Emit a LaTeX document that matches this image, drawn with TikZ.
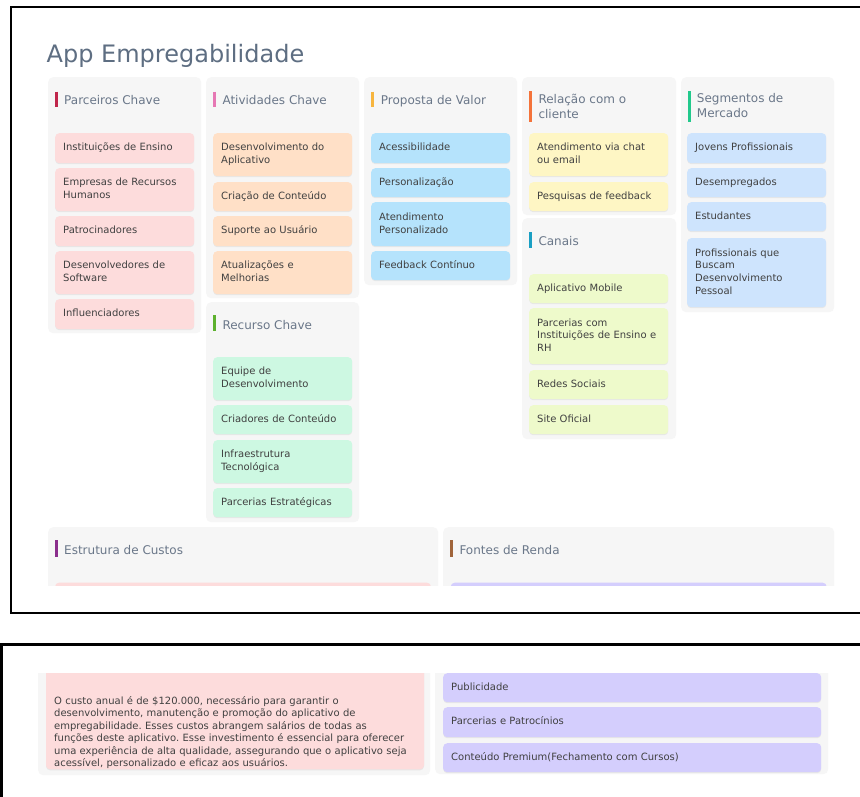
\documentclass[tikz,border=0pt]{standalone}
\usepackage{fontspec}
\setmainfont{DejaVu Sans}
\usepackage{tikz}
\usetikzlibrary{shadows}
\frenchspacing
\definecolor{panelgray}{HTML}{F6F6F6}
\definecolor{titletext}{HTML}{5E6E82}
\definecolor{headtext}{HTML}{6A7789}
\definecolor{cardtext}{HTML}{404040}
\definecolor{pinkcard}{HTML}{FDDCDC}
\definecolor{peachcard}{HTML}{FFE0C7}
\definecolor{skycard}{HTML}{B5E3FC}
\definecolor{yellowcard}{HTML}{FEF6C4}
\definecolor{limecard}{HTML}{EEFACB}
\definecolor{bluecard}{HTML}{CEE4FD}
\definecolor{mintcard}{HTML}{CDF8E2}
\definecolor{lilaccard}{HTML}{D4CEFD}
\definecolor{barparc}{HTML}{C0264B}
\definecolor{barativ}{HTML}{E678B4}
\definecolor{barprop}{HTML}{F7B53E}
\definecolor{barrel}{HTML}{F4733A}
\definecolor{barseg}{HTML}{22C98C}
\definecolor{barcan}{HTML}{1A9FC3}
\definecolor{barrec}{HTML}{5DB12E}
\definecolor{barcus}{HTML}{8B2E8C}
\definecolor{barren}{HTML}{A0643A}

\begin{document}
\begin{tikzpicture}
            [x=1pt,y=-1pt,
             frame/.style={line width=2.6pt},
             panel/.style={anchor=north west,fill=panelgray,rounded corners=5pt,inner sep=0pt},
             bar/.style={line width=3pt},
             head/.style={anchor=north west,inner sep=0pt,text=headtext,align=left,
                          font=\fontsize{12}{15}\selectfont,execute at begin node=\strut},
             cardshadow/.style={drop shadow={opacity=0.12,shadow xshift=0pt,shadow yshift=-1pt}},
             card/.style={anchor=north west,rounded corners=4pt,cardshadow,text=cardtext,
                          font=\fontsize{10}{12.7}\selectfont,text width=123pt,align=left,
                          inner xsep=8pt,inner ysep=0pt,
                          execute at begin node=\strut,execute at end node=\strut}]
            \clip (0,0) rectangle (860,796);
            \fill[white] (0,0) rectangle (860,796);
            %
            \draw[frame] (880,7) -- (11,7) -- (11,612.8) -- (880,612.8);
            \node[anchor=base west,inner sep=0pt,text=titletext,font=\fontsize{24}{28}\selectfont]
                (title) at (46.5,62) {App Empregabilidade};
            %
            \node[panel,minimum width=153pt,minimum height=256pt] (parc) at (48,77) {};
            \node[panel,minimum width=153pt,minimum height=221pt] (ativ) at (206,77) {};
            \node[panel,minimum width=153pt,minimum height=220pt] (recu) at (206,302) {};
            \node[panel,minimum width=153pt,minimum height=208pt] (prop) at (364,77) {};
            \node[panel,minimum width=154pt,minimum height=138pt] (rela) at (522,77) {};
            \node[panel,minimum width=154pt,minimum height=221pt] (cana) at (522,218) {};
            \node[panel,minimum width=153pt,minimum height=235pt] (segm) at (681,77) {};
            %
            \draw[bar,barparc] (56.7,91.7) -- (56.7,107.3);
            \draw[bar,barativ] (214.5,91.7) -- (214.5,107.3);
            \draw[bar,barprop] (372.7,91.7) -- (372.7,107.3);
            \draw[bar,barrel] (530.7,91) -- (530.7,122.3);
            \draw[bar,barseg] (689,91) -- (689,122.3);
            \draw[bar,barcan] (530.7,232.3) -- (530.7,248.3);
            \draw[bar,barrec] (214.5,315) -- (214.5,331);
            %
            \node[head] (parch) at (64,93.5) {Parceiros Chave};
            \node[head] (ativh) at (222.3,93.5) {Atividades Chave};
            \node[head] (proph) at (380.7,93.5) {Proposta de Valor};
            \node[head] (relah) at (538.3,93.5) {Relação com o\\cliente};
            \node[head] (segmh) at (696.7,93.5) {Segmentos de\\Mercado};
            \node[head] (canah) at (538.3,235) {Canais};
            \node[head] (recuh) at (222.3,318.5) {Recurso Chave};
            %
            \node[card,fill=pinkcard,minimum height=30pt] (parc1) at (55,133) {Instituições de Ensino};
            \node[card,fill=pinkcard,minimum height=43pt] (parc2) at (55,168) {Empresas de Recursos\\Humanos};
            \node[card,fill=pinkcard,minimum height=30pt] (parc3) at (55,216) {Patrocinadores};
            \node[card,fill=pinkcard,minimum height=43pt] (parc4) at (55,251) {Desenvolvedores de\\Software};
            \node[card,fill=pinkcard,minimum height=30pt] (parc5) at (55,299) {Influenciadores};
            %
            \node[card,fill=peachcard,minimum height=43pt] (ativ1) at (213,133) {Desenvolvimento do\\Aplicativo};
            \node[card,fill=peachcard,minimum height=29pt] (ativ2) at (213,182) {Criação de Conteúdo};
            \node[card,fill=peachcard,minimum height=30pt] (ativ3) at (213,216) {Suporte ao Usuário};
            \node[card,fill=peachcard,minimum height=43pt] (ativ4) at (213,251) {Atualizações e\\Melhorias};
            %
            \node[card,fill=mintcard,minimum height=43pt] (recu1) at (213,357) {Equipe de\\Desenvolvimento};
            \node[card,fill=mintcard,minimum height=29pt] (recu2) at (213,405) {Criadores de Conteúdo};
            \node[card,fill=mintcard,minimum height=43pt] (recu3) at (213,440) {Infraestrutura\\Tecnológica};
            \node[card,fill=mintcard,minimum height=29pt] (recu4) at (213,488) {Parcerias Estratégicas};
            %
            \node[card,fill=skycard,minimum height=30pt] (prop1) at (371,133) {Acessibilidade};
            \node[card,fill=skycard,minimum height=29pt] (prop2) at (371,168) {Personalização};
            \node[card,fill=skycard,minimum height=44pt] (prop3) at (371,202) {Atendimento\\Personalizado};
            \node[card,fill=skycard,minimum height=29pt] (prop4) at (371,251) {Feedback Contínuo};
            %
            \node[card,fill=yellowcard,minimum height=43pt] (rela1) at (529,133) {Atendimento via chat\\ou email};
            \node[card,fill=yellowcard,minimum height=29pt] (rela2) at (529,182) {Pesquisas de feedback};
            %
            \node[card,fill=limecard,minimum height=29pt] (cana1) at (529,274) {Aplicativo Mobile};
            \node[card,fill=limecard,minimum height=56pt] (cana2) at (529,308) {Parcerias com\\Instituições de Ensino e\\RH};
            \node[card,fill=limecard,minimum height=29pt] (cana3) at (529,370) {Redes Sociais};
            \node[card,fill=limecard,minimum height=29pt] (cana4) at (529,405) {Site Oficial};
            %
            \node[card,fill=bluecard,minimum height=30pt] (segm1) at (687,133) {Jovens Profissionais};
            \node[card,fill=bluecard,minimum height=29pt] (segm2) at (687,168) {Desempregados};
            \node[card,fill=bluecard,minimum height=29pt] (segm3) at (687,202) {Estudantes};
            \node[card,fill=bluecard,minimum height=69pt] (segm4) at (687,238) {Profissionais que\\Buscam\\Desenvolvimento\\Pessoal};
            %
            \begin{scope}
                \clip (13,8) rectangle (860,585);
                \node[panel,minimum width=390pt,minimum height=80pt] (cust) at (48,527) {};
                \node[panel,minimum width=391pt,minimum height=80pt] (rend) at (443,527) {};
                \draw[bar,barcus] (56.7,540) -- (56.7,556.7);
                \draw[bar,barren] (451,540) -- (451,556.7);
                \node[head] (custh) at (64,543.5) {Estrutura de Custos};
                \node[head] (rendh) at (459.3,543.5) {Fontes de Renda};
                \fill[pinkcard,rounded corners=4pt] (55,582.7) rectangle (431,600);
                \fill[lilaccard,rounded corners=4pt] (450.7,582.7) rectangle (826.7,600);
            \end{scope}
            %
            \draw[frame] (880,644.3) -- (1.5,644.3) -- (1.5,810);
            \begin{scope}
                \clip (3,673) rectangle (860,796);
                \node[panel,minimum width=392pt,minimum height=115pt] (cust2) at (38,660) {};
                \node[panel,minimum width=393pt,minimum height=114pt] (rend2) at (435,660) {};
                \fill[pinkcard,rounded corners=4pt,cardshadow] (46,655) rectangle (424,769.3);
                \node[anchor=north west,inner sep=0pt,text=cardtext,text width=380pt,align=left,
                      font=\fontsize{10}{12.5}\selectfont,execute at begin node=\strut]
                    (cust1) at (54,695.3) {O custo anual é de \$120.000, necessário para garantir o\\
                    desenvolvimento, manutenção e promoção do aplicativo de\\
                    empregabilidade. Esses custos abrangem salários de todas as\\
                    funções deste aplicativo. Esse investimento é essencial para oferecer\\
                    uma experiência de alta qualidade, assegurando que o aplicativo seja\\
                    acessível, personalizado e eficaz aos usuários.};
                \node[card,fill=lilaccard,text width=362pt,minimum height=29pt] (rend1) at (443,673) {Publicidade};
                \node[card,fill=lilaccard,text width=362pt,minimum height=30pt] (rend3) at (443,707) {Parcerias e Patrocínios};
                \node[card,fill=lilaccard,text width=362pt,minimum height=29pt] (rend4) at (443,743) {Conteúdo Premium(Fechamento com Cursos)};
            \end{scope}
        \end{tikzpicture}
\end{document}
